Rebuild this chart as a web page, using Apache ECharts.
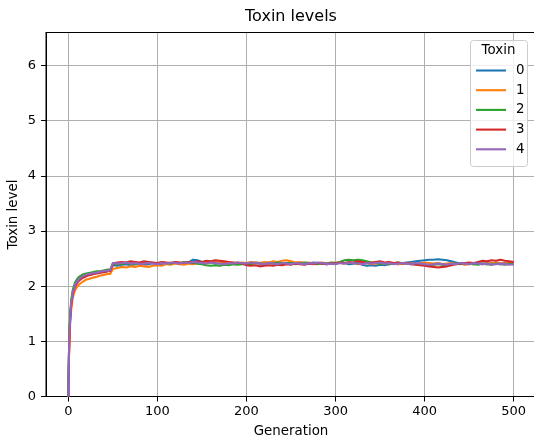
<!DOCTYPE html>
<html>
<head>
<meta charset="utf-8">
<script src="https://cdn.jsdelivr.net/npm/echarts@6/dist/echarts.min.js"></script>
<style>
  html, body { margin: 0; padding: 0; background: #fff; }
  #chart { width: 534px; height: 441px; }
</style>
</head>
<body>
<div id="chart"></div>
<script>
// Generations at which toxin levels were recorded
const generations = [
  0, 1, 2, 3, 4, 5, 6, 7, 8, 10, 12, 14, 16, 18, 20, 23, 26, 29, 32, 35, 38, 41, 44, 47, 49,
  50, 55, 60, 65, 70, 75, 80, 85, 90, 95,
  100, 105, 110, 115, 120, 125, 130, 135, 140, 145,
  150, 155, 160, 165, 170, 175, 180, 185, 190, 195,
  200, 205, 210, 215, 220, 225, 230, 235, 240, 245,
  250, 255, 260, 265, 270, 275, 280, 285, 290, 295,
  300, 305, 310, 315, 320, 325, 330, 335, 340, 345,
  350, 355, 360, 365, 370, 375, 380, 385, 390, 395,
  400, 405, 410, 415, 420, 425, 430, 435, 440, 445,
  450, 455, 460, 465, 470, 475, 480, 485, 490, 495,
  500
];

const toxin0 = [
  0, 0.95, 1.38, 1.62, 1.77, 1.87, 1.93, 1.98, 2.02, 2.07, 2.11, 2.14, 2.16, 2.18, 2.19, 2.21, 2.22, 2.23, 2.24, 2.25, 2.26, 2.26, 2.27, 2.28, 2.29,
  2.38, 2.37, 2.39, 2.40, 2.38, 2.40, 2.41, 2.39, 2.40, 2.42,
  2.41, 2.40, 2.42, 2.41, 2.43, 2.42, 2.41, 2.43, 2.48, 2.47,
  2.44, 2.42, 2.43, 2.41, 2.42, 2.44, 2.42, 2.43, 2.41, 2.42,
  2.40, 2.41, 2.43, 2.42, 2.41, 2.43, 2.42, 2.40, 2.41, 2.42,
  2.43, 2.41, 2.42, 2.40, 2.41, 2.43, 2.42, 2.41, 2.40, 2.42,
  2.41, 2.43, 2.42, 2.40, 2.41, 2.42, 2.39, 2.37, 2.38, 2.37,
  2.39, 2.38, 2.40, 2.41, 2.40, 2.42, 2.43, 2.44, 2.45, 2.46,
  2.47, 2.48, 2.48, 2.49, 2.48, 2.47, 2.45, 2.43, 2.41, 2.40,
  2.41, 2.40, 2.42, 2.41, 2.40, 2.42, 2.41, 2.40, 2.42, 2.41,
  2.40
];

const toxin1 = [
  0, 0.88, 1.30, 1.53, 1.68, 1.78, 1.85, 1.90, 1.94, 1.99, 2.03, 2.06, 2.08, 2.10, 2.12, 2.13, 2.15, 2.16, 2.17, 2.19, 2.20, 2.21, 2.22, 2.22, 2.24,
  2.31, 2.33, 2.35, 2.34, 2.36, 2.35, 2.37, 2.36, 2.35, 2.37,
  2.38, 2.37, 2.40, 2.39, 2.41, 2.40, 2.39, 2.41, 2.40, 2.42,
  2.41, 2.43, 2.42, 2.44, 2.43, 2.42, 2.44, 2.43, 2.41, 2.43,
  2.42, 2.44, 2.43, 2.42, 2.44, 2.43, 2.45, 2.44, 2.46, 2.47,
  2.45, 2.43, 2.44, 2.42, 2.43, 2.41, 2.42, 2.43, 2.41, 2.42,
  2.43, 2.42, 2.41, 2.43, 2.42, 2.40, 2.41, 2.42, 2.40, 2.41,
  2.42, 2.41, 2.43, 2.42, 2.40, 2.41, 2.42, 2.41, 2.40, 2.42,
  2.43, 2.42, 2.41, 2.42, 2.40, 2.41, 2.42, 2.40, 2.41, 2.39,
  2.40, 2.42, 2.41, 2.40, 2.42, 2.41, 2.43, 2.42, 2.41, 2.43,
  2.42
];

const toxin2 = [
  0, 1.00, 1.45, 1.68, 1.83, 1.93, 1.99, 2.04, 2.08, 2.13, 2.17, 2.19, 2.21, 2.22, 2.23, 2.24, 2.25, 2.26, 2.27, 2.27, 2.28, 2.29, 2.30, 2.30, 2.31,
  2.39, 2.40, 2.41, 2.42, 2.41, 2.40, 2.42, 2.41, 2.43, 2.42,
  2.41, 2.43, 2.42, 2.41, 2.43, 2.42, 2.44, 2.43, 2.42, 2.41,
  2.40, 2.38, 2.37, 2.38, 2.37, 2.39, 2.38, 2.40, 2.39, 2.40,
  2.41, 2.40, 2.42, 2.41, 2.40, 2.42, 2.41, 2.43, 2.42, 2.41,
  2.42, 2.40, 2.41, 2.43, 2.42, 2.41, 2.40, 2.42, 2.41, 2.43,
  2.42, 2.44, 2.47, 2.48, 2.47, 2.48, 2.47, 2.45, 2.43, 2.42,
  2.41, 2.42, 2.40, 2.41, 2.43, 2.42, 2.41, 2.40, 2.41, 2.40,
  2.39, 2.38, 2.39, 2.40, 2.39, 2.38, 2.40, 2.41, 2.40, 2.42,
  2.41, 2.40, 2.39, 2.41, 2.40, 2.39, 2.41, 2.40, 2.39, 2.41,
  2.40
];

const toxin3 = [
  0, 0.93, 1.36, 1.60, 1.75, 1.85, 1.92, 1.97, 2.01, 2.06, 2.10, 2.13, 2.15, 2.17, 2.18, 2.20, 2.21, 2.22, 2.23, 2.24, 2.25, 2.26, 2.27, 2.27, 2.28,
  2.41, 2.43, 2.44, 2.43, 2.45, 2.44, 2.43, 2.45, 2.44, 2.43,
  2.42, 2.44, 2.43, 2.42, 2.44, 2.43, 2.42, 2.44, 2.43, 2.45,
  2.44, 2.46, 2.45, 2.47, 2.46, 2.45, 2.44, 2.42, 2.43, 2.41,
  2.38, 2.37, 2.38, 2.36, 2.37, 2.38, 2.37, 2.39, 2.38, 2.40,
  2.39, 2.41, 2.40, 2.39, 2.41, 2.40, 2.42, 2.41, 2.40, 2.42,
  2.41, 2.43, 2.42, 2.44, 2.43, 2.45, 2.44, 2.42, 2.43, 2.44,
  2.45, 2.43, 2.44, 2.42, 2.43, 2.41, 2.42, 2.40, 2.39, 2.38,
  2.37, 2.36, 2.35, 2.34, 2.35, 2.36, 2.38, 2.40, 2.41, 2.42,
  2.43, 2.42, 2.44, 2.46, 2.45, 2.47, 2.46, 2.48, 2.46, 2.45,
  2.44
];

const toxin4 = [
  0, 0.97, 1.40, 1.64, 1.79, 1.89, 1.95, 2.00, 2.04, 2.09, 2.13, 2.16, 2.18, 2.20, 2.21, 2.22, 2.23, 2.24, 2.25, 2.26, 2.27, 2.28, 2.28, 2.29, 2.30,
  2.42, 2.41, 2.42, 2.43, 2.41, 2.42, 2.40, 2.41, 2.42, 2.41,
  2.40, 2.42, 2.41, 2.43, 2.42, 2.41, 2.43, 2.42, 2.44, 2.43,
  2.42, 2.41, 2.43, 2.42, 2.41, 2.40, 2.42, 2.41, 2.43, 2.42,
  2.41, 2.43, 2.42, 2.41, 2.40, 2.42, 2.41, 2.40, 2.42, 2.41,
  2.40, 2.42, 2.41, 2.40, 2.42, 2.41, 2.43, 2.42, 2.40, 2.41,
  2.40, 2.42, 2.41, 2.43, 2.42, 2.41, 2.40, 2.42, 2.41, 2.42,
  2.43, 2.41, 2.42, 2.40, 2.41, 2.42, 2.41, 2.40, 2.42, 2.41,
  2.40, 2.39, 2.40, 2.41, 2.40, 2.39, 2.41, 2.40, 2.42, 2.41,
  2.40, 2.42, 2.41, 2.40, 2.41, 2.39, 2.40, 2.41, 2.40, 2.39,
  2.40
];

const seriesNames = ['0', '1', '2', '3', '4'];
const seriesValues = [toxin0, toxin1, toxin2, toxin3, toxin4];
const palette = ['#1f77b4', '#ff7f0e', '#2ca02c', '#d62728', '#9467bd'];
const xTicks = [0, 100, 200, 300, 400, 500];

const FONT = 'DejaVu Sans';
const chart = echarts.init(document.getElementById('chart'), null, { renderer: 'canvas' });

const series = seriesNames.map((name, k) => ({
  name: name,
  type: 'line',
  xAxisIndex: 0,
  symbol: 'none',
  showSymbol: false,
  animation: false,
  color: palette[k],
  lineStyle: { width: 2.1, color: palette[k] },
  data: generations.map((g, i) => [g, seriesValues[k][i]])
}));

chart.setOption({
  animation: false,
  backgroundColor: '#ffffff',
  textStyle: { fontFamily: FONT, color: '#000' },
  grid: {
    left: 46, top: 32.5, width: 490, height: 364,
    outerBoundsMode: 'none',
    containLabel: false,
    show: true, borderColor: '#000', borderWidth: 1, backgroundColor: '#fff'
  },
  xAxis: [
    {
      type: 'value',
      min: -25, max: 525,
      name: 'Generation',
      nameLocation: 'middle',
      nameGap: 28.5,
      nameMoveOverlap: false,
      nameTextStyle: { fontFamily: FONT, fontSize: 13.4, color: '#000' },
      axisLine: { show: true, onZero: false, lineStyle: { color: '#000', width: 1 } },
      axisTick: { show: true, length: 5, customValues: xTicks, lineStyle: { color: '#000' } },
      axisLabel: { customValues: xTicks, margin: 9, fontFamily: FONT, fontSize: 13, color: '#000' },
      splitLine: { show: true, lineStyle: { color: '#b0b0b0', width: 1 } }
    },
    {
      // top spine of the axes frame
      type: 'value',
      position: 'top',
      min: -25, max: 525,
      axisLine: { show: true, onZero: false, lineStyle: { color: '#000', width: 1 } },
      axisTick: { show: false },
      axisLabel: { show: false },
      splitLine: { show: false }
    }
  ],
  yAxis: {
    type: 'value',
    min: 0, max: 6.6, interval: 1,
    name: 'Toxin level',
    nameLocation: 'middle',
    nameGap: 26,
    nameMoveOverlap: false,
    nameTextStyle: { fontFamily: FONT, fontSize: 13.4, color: '#000' },
    axisLine: { show: true, onZero: false, lineStyle: { color: '#000', width: 1 } },
    axisTick: { show: true, length: 5, lineStyle: { color: '#000' } },
    axisLabel: { margin: 10, fontFamily: FONT, fontSize: 13, color: '#000', showMaxLabel: false },
    splitLine: { show: true, lineStyle: { color: '#b0b0b0', width: 1 } }
  },
  legend: {
    data: seriesNames,
    orient: 'vertical',
    left: 475, top: 64,
    padding: 0,
    itemWidth: 30, itemHeight: 14, itemGap: 6.7,
    itemStyle: { opacity: 0 },
    lineStyle: { width: 2.1 },
    textStyle: { fontFamily: FONT, fontSize: 13.4, color: '#000', padding: [0, 0, 0, 5] },
    z: 6
  },
  graphic: [
    {
      type: 'text', x: 291, y: 17, z: 10,
      style: { text: 'Toxin levels', font: '16px "DejaVu Sans"', fill: '#000', align: 'center', verticalAlign: 'middle' }
    },
    {
      type: 'rect', z: 5,
      shape: { x: 470.5, y: 40.5, width: 57, height: 126, r: 3 },
      style: { fill: 'rgba(255,255,255,0.8)', stroke: '#cccccc', lineWidth: 1 }
    },
    {
      type: 'text', x: 498.5, y: 51, z: 10,
      style: { text: 'Toxin', font: '13.4px "DejaVu Sans"', fill: '#000', align: 'center', verticalAlign: 'middle' }
    }
  ],
  series: series
});
</script>
</body>
</html>
